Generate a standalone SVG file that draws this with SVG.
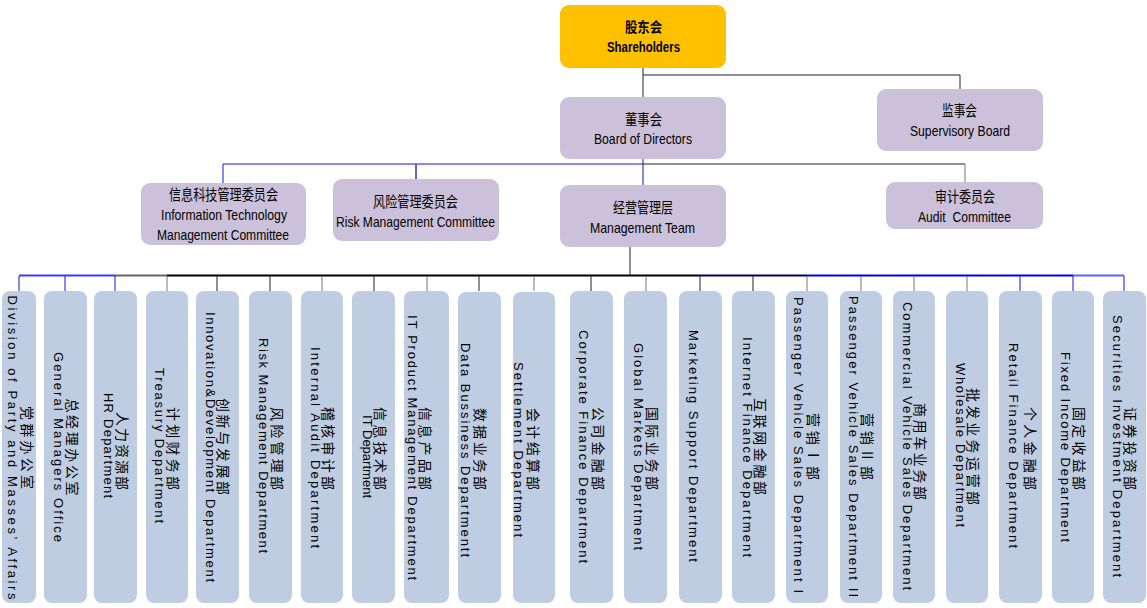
<svg xmlns="http://www.w3.org/2000/svg" width="1147" height="608" viewBox="0 0 1147 608">
<style>
text{font-family:"Liberation Sans","Noto Sans CJK SC",sans-serif;fill:#000;text-anchor:middle;dominant-baseline:central}
.top{fill:#CCC1DA}
.dept{fill:#BFCDE2}
.t{font-size:15px}
.b{font-weight:bold;font-size:14px}
.cn{font-size:14px;font-family:"Noto Sans CJK SC",sans-serif}
.en{font-size:13px}
.k{stroke:#222;stroke-width:1;fill:none}
.g{stroke:#777;stroke-width:1;fill:none}
.bl{stroke:#1010ee;stroke-width:1;fill:none}
</style>
<rect width="1147" height="608" fill="#fff"/>
<g id="connectors">
<path class="k" d="M643,68V75H960V89M643,75V97M643,159V164H965"/>
<path class="g" d="M965,164V182"/>
<path class="bl" d="M223,183V164H643V185"/>
<path d="M416,164V179" stroke="#3030c0" stroke-width="1.5" fill="none"/>
<path class="k" d="M630,247V275" stroke-width="1.5"/>
<path d="M19,275.5H115" stroke="#3a3aff" stroke-width="2" fill="none"/>
<path d="M115,275.5H167" stroke="#666" stroke-width="2" fill="none"/>
<path d="M167,275.5H700" stroke="#000" stroke-width="2" fill="none"/>
<path d="M700,275.5H807" stroke="#000060" stroke-width="2" fill="none"/>
<path d="M807,275.5H1073" stroke="#0000ee" stroke-width="2" fill="none"/>
<path d="M1073,275.5H1124" stroke="#6060ff" stroke-width="2" fill="none"/>
<path class="bl" d="M19,276V291M65,276V291M115,276V291M1020,276V291M1073,276V291M1124,276V291"/>
<path class="g" d="M167,276V291M322,276V291M427,276V291M534,276V291M646,276V291M807,276V291M861,276V291M914,276V291M967,276V291"/>
<path class="k" d="M217,276V291M270,276V291M374,276V291M479,276V291M591,276V291M700,276V291M753,276V291"/>
</g>
<g id="shareholders"><rect x="560" y="5" width="166" height="63" rx="9" fill="#FFC000"/>
<text class="b" x="643.5" y="27" textLength="37" lengthAdjust="spacingAndGlyphs">股东会</text>
<text class="b" x="643.5" y="47" textLength="73" lengthAdjust="spacingAndGlyphs">Shareholders</text></g>
<g id="board"><rect class="top" x="560" y="97" width="166" height="62" rx="9"/>
<text class="t" x="643.5" y="119" textLength="37" lengthAdjust="spacingAndGlyphs">董事会</text>
<text class="t" x="643" y="138" textLength="98" lengthAdjust="spacingAndGlyphs">Board of Directors</text></g>
<g id="supervisory"><rect class="top" x="877" y="89" width="166" height="62" rx="9"/>
<text class="t" x="959.5" y="110" textLength="35" lengthAdjust="spacingAndGlyphs">监事会</text>
<text class="t" x="960" y="130" textLength="100" lengthAdjust="spacingAndGlyphs">Supervisory Board</text></g>
<g id="itcommittee"><rect class="top" x="141" y="183" width="165" height="62" rx="9"/>
<text class="t" x="223.5" y="194" textLength="109" lengthAdjust="spacingAndGlyphs">信息科技管理委员会</text>
<text class="t" x="224" y="214" textLength="126" lengthAdjust="spacingAndGlyphs">Information Technology</text>
<text class="t" x="223" y="234" textLength="132" lengthAdjust="spacingAndGlyphs">Management Committee</text></g>
<g id="riskcommittee"><rect class="top" x="333" y="179" width="166" height="62" rx="9"/>
<text class="t" x="415.5" y="201" textLength="85" lengthAdjust="spacingAndGlyphs">风险管理委员会</text>
<text class="t" x="415.5" y="221" textLength="159" lengthAdjust="spacingAndGlyphs">Risk Management Committee</text></g>
<g id="management"><rect class="top" x="560" y="185" width="166" height="62" rx="9"/>
<text class="t" x="643" y="207" textLength="60" lengthAdjust="spacingAndGlyphs">经营管理层</text>
<text class="t" x="642.5" y="227" textLength="105" lengthAdjust="spacingAndGlyphs">Management Team</text></g>
<g id="audit"><rect class="top" x="886" y="182" width="157" height="47" rx="9"/>
<text class="t" x="965" y="196" textLength="60" lengthAdjust="spacingAndGlyphs">审计委员会</text>
<text class="t" x="964.5" y="216" textLength="93" lengthAdjust="spacingAndGlyphs" xml:space="preserve">Audit  Committee</text></g>
<g id="d1"><rect class="dept" x="2" y="291" width="34" height="312" rx="8"/><g transform="translate(0,447.5) rotate(90)"><text class="cn" y="-27.5" textLength="83">党群办公室</text><text class="en" y="-12" textLength="304">Division of Party and Masses’ Affairs</text></g></g>
<g id="d2"><rect class="dept" x="44" y="291" width="43" height="312" rx="8"/><g transform="translate(0,447) rotate(90)"><text class="cn" y="-72.5" textLength="97">总经理办公室</text><text class="en" y="-58" textLength="190">General Managers Office</text></g></g>
<g id="d3"><rect class="dept" x="94" y="291" width="43" height="312" rx="8"/><g transform="translate(0,447) rotate(90)"><text class="cn" y="-122.5" x="4" textLength="78">人力资源部</text><text class="en" y="-108" x="-1.5" textLength="105">HR Department</text></g></g>
<g id="d4"><rect class="dept" x="146" y="291" width="42" height="312" rx="8"/><g transform="translate(0,447) rotate(90)"><text class="cn" y="-174" x="1.5" textLength="83">计划财务部</text><text class="en" y="-159.5" x="-1.5" textLength="155">Treasury Department</text></g></g>
<g id="d5"><rect class="dept" x="196" y="291" width="43" height="312" rx="8"/><g transform="translate(0,447) rotate(90)"><text class="cn" y="-224" x="-0.5" textLength="97">创新与发展部</text><text class="en" y="-210.5" textLength="270">Innovation&amp;Development Department</text></g></g>
<g id="d6"><rect class="dept" x="249" y="291" width="43" height="312" rx="8"/><g transform="translate(0,447) rotate(90)"><text class="cn" y="-277.5" x="1.5" textLength="83">风险管理部</text><text class="en" y="-263" x="-1.5" textLength="215">Risk Management Department</text></g></g>
<g id="d7"><rect class="dept" x="301" y="291" width="42" height="312" rx="8"/><g transform="translate(0,447) rotate(90)"><text class="cn" y="-329" x="1.5" textLength="83">稽核审计部</text><text class="en" y="-315" x="0.5" textLength="201">Internal Audit Department</text></g></g>
<g id="d8"><rect class="dept" x="352" y="291" width="43" height="312" rx="8"/><g transform="translate(0,447) rotate(90)"><text class="cn" y="-381" x="1.5" textLength="83">信息技术部</text><text class="en" y="-367" x="9.5" textLength="83">IT Department</text></g></g>
<g id="d9"><rect class="dept" x="404" y="291" width="45" height="312" rx="8"/><g transform="translate(0,447) rotate(90)"><text class="cn" y="-426" x="1.5" textLength="83">信息产品部</text><text class="en" y="-412" x="0.5" textLength="265">IT Product Management Department</text></g></g>
<g id="d10"><rect class="dept" x="458" y="292" width="43" height="311" rx="8"/><g transform="translate(0,447) rotate(90)"><text class="cn" y="-481" x="2" textLength="82">数据业务部</text><text class="en" y="-465" x="3" textLength="214">Data Bussiness Departmentt</text></g></g>
<g id="d11"><rect class="dept" x="513" y="292" width="42" height="311" rx="8"/><g transform="translate(0,447) rotate(90)"><text class="cn" y="-534" x="2" textLength="82">会计结算部</text><text class="en" y="-518" x="2.5" textLength="175">Settlement Department</text></g></g>
<g id="d12"><rect class="dept" x="570" y="291" width="43" height="312" rx="8"/><g transform="translate(0,447) rotate(90)"><text class="cn" y="-598.5" x="1.5" textLength="83">公司金融部</text><text class="en" y="-583" x="-0.5" textLength="233">Corporate Finance Department</text></g></g>
<g id="d13"><rect class="dept" x="624" y="291" width="43" height="312" rx="8"/><g transform="translate(0,447) rotate(90)"><text class="cn" y="-652.5" x="1.5" textLength="83">国际业务部</text><text class="en" y="-638" x="-0.5" textLength="207">Global Markets Department</text></g></g>
<g id="d14"><rect class="dept" x="679" y="291" width="43" height="312" rx="8"/><g transform="translate(0,447) rotate(90)"><text class="en" y="-693" x="-1" textLength="232">Marketing Support Department</text></g></g>
<g id="d15"><rect class="dept" x="732" y="291" width="43" height="312" rx="8"/><g transform="translate(0,447) rotate(90)"><text class="cn" y="-761" x="-0.5" textLength="97">互联网金融部</text><text class="en" y="-747" textLength="220">Internet Finance Department</text></g></g>
<g id="d16"><rect class="dept" x="786" y="291" width="42" height="312" rx="8"/><g transform="translate(0,447) rotate(90)"><text class="cn" y="-814" x="-0.5" textLength="67">营销Ⅰ部</text><text class="en" y="-798" x="-2" textLength="296">Passenger Vehicle Sales Department I</text></g></g>
<g id="d17"><rect class="dept" x="840" y="291" width="42" height="312" rx="8"/><g transform="translate(0,447) rotate(90)"><text class="cn" y="-867.5" x="-0.5" textLength="67">营销Ⅱ部</text><text class="en" y="-853" x="-0.5" textLength="301">Passenger Vehicle Sales Department II</text></g></g>
<g id="d18"><rect class="dept" x="893" y="291" width="42" height="312" rx="8"/><g transform="translate(0,447) rotate(90)"><text class="cn" y="-921" x="4.5" textLength="97">商用车业务部</text><text class="en" y="-907" x="-1" textLength="288">Commercial Vehicle Sales Department</text></g></g>
<g id="d19"><rect class="dept" x="946" y="291" width="42" height="312" rx="8"/><g transform="translate(0,447) rotate(90)"><text class="cn" y="-974" x="-0.5" textLength="117">批发业务运营部</text><text class="en" y="-960" x="-2" textLength="164">Wholesale Department</text></g></g>
<g id="d20"><rect class="dept" x="999" y="291" width="43" height="312" rx="8"/><g transform="translate(0,447) rotate(90)"><text class="cn" y="-1031" x="1.5" textLength="83">个人金融部</text><text class="en" y="-1013" x="-1.5" textLength="205">Retail Finance Department</text></g></g>
<g id="d21"><rect class="dept" x="1052" y="291" width="42" height="312" rx="8"/><g transform="translate(0,447) rotate(90)"><text class="cn" y="-1079.5" x="1.5" textLength="83">固定收益部</text><text class="en" y="-1065" textLength="190">Fixed Income Department</text></g></g>
<g id="d22"><rect class="dept" x="1103" y="291" width="43" height="312" rx="8"/><g transform="translate(0,447) rotate(90)"><text class="cn" y="-1131" x="1.5" textLength="83">证券投资部</text><text class="en" y="-1117" x="-1" textLength="262">Securities Investment Department</text></g></g>
</svg>
